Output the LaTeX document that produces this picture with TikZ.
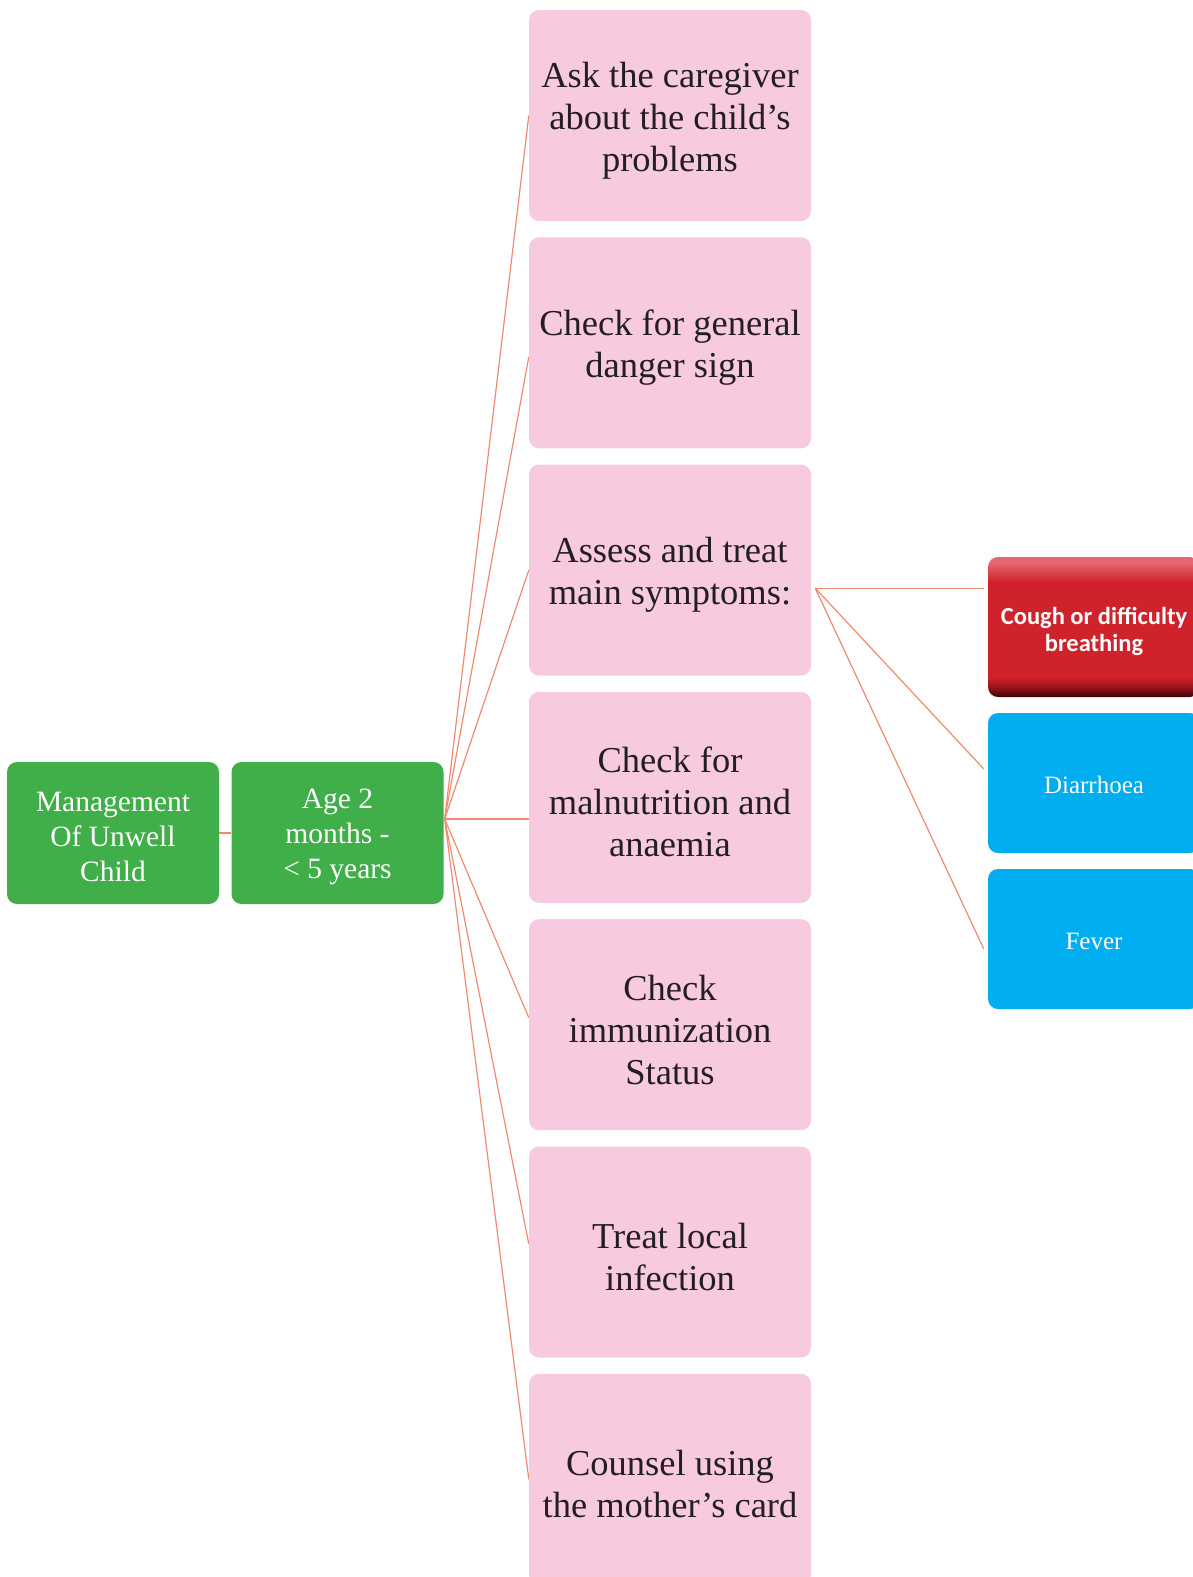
\documentclass[tikz,border=0pt]{standalone}
\usepackage{fontspec}
\setmainfont{Liberation Serif}
\newfontfamily\boxsans{Carlito}
\usetikzlibrary{calc,backgrounds}

\definecolor{leafgreen}{RGB}{64,174,73}
\definecolor{softpink}{RGB}{248,202,223}
\definecolor{skyblue}{RGB}{0,174,239}
\definecolor{linkorange}{RGB}{239,138,110}
\definecolor{inktext}{RGB}{35,31,32}
\definecolor{rbdeep}{RGB}{58,2,8}
\definecolor{rbdark}{RGB}{140,16,24}
\definecolor{rbmain}{RGB}{208,34,43}
\definecolor{rblight}{RGB}{226,104,110}

% bevelled red fill: dark lower rim, light upper rim
\pgfdeclareverticalshading{redbevel}{100bp}{%
  color(0bp)=(rbdeep); color(25bp)=(rbdeep); color(28bp)=(rbdark);
  color(32bp)=(rbmain); color(66bp)=(rbmain); color(73bp)=(rblight);
  color(75bp)=(rblight); color(100bp)=(rblight)}

% invisible strut that sets the height of a first text line
\newcommand\firstline[1]{\rule{0pt}{#1}}

\begin{document}
\begin{tikzpicture}[x=1pt,y=-1pt,
  box/.style={rectangle, rounded corners=10pt, inner sep=0pt, align=center},
  greenbox/.style={box, fill=leafgreen, text=white,
    minimum width=212pt, minimum height=142pt,
    font=\fontsize{29.5}{35}\selectfont},
  pinkbox/.style={box, fill=softpink, text=inktext,
    minimum width=282pt, minimum height=211pt,
    font=\fontsize{36.5}{42}\selectfont},
  bluebox/.style={box, fill=skyblue, text=white,
    minimum width=212pt, minimum height=140pt,
    font=\fontsize{25}{30}\selectfont},
  redbox/.style={box, shading=redbevel, text=white,
    minimum width=212pt, minimum height=140pt,
    font=\boxsans\bfseries\fontsize{24.5}{27}\selectfont},
  link/.style={draw=linkorange, line width=1.2pt}]

\useasboundingbox (0,0) rectangle (1193,1577);
\clip (0,0) rectangle (1193,1577);

% root and age group
\node[greenbox] (mgmt) at (113,833) {\firstline{28pt}Management\\Of Unwell\\Child};
\node[greenbox] (age) at (337.5,833) {\firstline{28pt}Age 2\\months -\\< 5 years};

% steps
\node[pinkbox] (p1) at (670,115.5) {\firstline{35pt}Ask the caregiver\\about the child’s\\problems};
\node[pinkbox] (p2) at (670,342.8) {\firstline{35pt}Check for general\\danger sign};
\node[pinkbox] (p3) at (670,570.1) {\firstline{35pt}Assess and treat\\main symptoms:};
\node[pinkbox] (p4) at (670,797.4) {\firstline{35pt}Check for\\malnutrition and\\anaemia};
\node[pinkbox] (p5) at (670,1024.7) {\firstline{35pt}Check\\immunization\\Status};
\node[pinkbox] (p6) at (670,1252.0) {\firstline{35pt}Treat local\\infection};
\node[pinkbox] (p7) at (670,1479.3) {\firstline{35pt}Counsel using\\the mother’s card};

% main symptoms
\node[redbox] (cough) at (1094,627) {\firstline{26pt}Cough or difficulty\\breathing};
\node[bluebox] (diar) at (1094,783) {\firstline{21pt}Diarrhoea};
\node[bluebox] (fever) at (1094,939) {\firstline{21pt}Fever};

\begin{pgfonlayer}{background}
  \draw[link] (mgmt) -- (age);
  \coordinate (hub) at ($(age.east)+(1,-14)$);
  \draw[link] (hub) -- (p1.west);
  \draw[link] (hub) -- ($(p2.west)+(0,14)$);
  \draw[link] (hub) -- (p3.west);
  \draw[link] (hub) -- (p4.west |- hub);
  \draw[link] (hub) -- ($(p5.west)+(0,-7)$);
  \draw[link] (hub) -- ($(p6.west)+(0,-8)$);
  \draw[link] (hub) -- (p7.west);

  \coordinate (fan) at ($(p3.east)+(4,18)$);
  \draw[link] (fan) -- ($(cough.west |- fan)+(-4,0)$);
  \draw[link] (fan) -- ($(diar.west)+(-4,-14)$);
  \draw[link] (fan) -- ($(fever.west)+(-4,10)$);
\end{pgfonlayer}
\end{tikzpicture}
\end{document}
